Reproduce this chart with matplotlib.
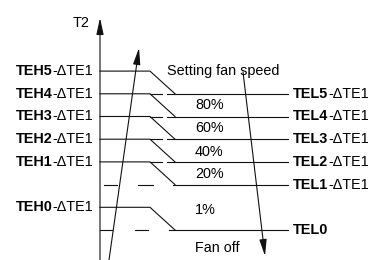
import matplotlib
matplotlib.use("Agg")
import matplotlib.pyplot as plt
from matplotlib.patches import FancyArrowPatch

plt.rcParams['font.family'] = ['Liberation Sans', 'DejaVu Sans']

# --------------------------------------------------
# DATA

# switch-on thresholds (rising T2) and their place on the T2 axis
teh_names = ["TEH5", "TEH4", "TEH3", "TEH2", "TEH1", "TEH0"]
teh_levels = [7, 6, 5, 4, 3, 1]

# switch-back thresholds (falling T2)
tel_names = ["TEL5", "TEL4", "TEL3", "TEL2", "TEL1", "TEL0"]
tel_suffix = ["-ΔTE1", "-ΔTE1", "-ΔTE1", "-ΔTE1", "-ΔTE1", ""]
tel_levels = [6, 5, 4, 3, 2, 0]

# fan speed inside each band
speed_labels = ["80%", "60%", "40%", "20%", "1%", "Fan off"]

title_text = "Setting fan speed"
axis_label = "T2"

# --------------------------------------------------
# LAYOUT (pixel-ish x, T2 level y)

px = 22.7
y_lo, y_hi = (230 - 260) / px, 230 / px

x_axis = 100
x_step = 150
x_ramp = 175
x_right = 288
speed_y = [5.5, 4.5, 3.45, 2.45, 0.9, -0.8]

fs = 10.4
lc = '#111111'
lw = 0.8

fig = plt.figure(figsize=(3.71, 2.60), dpi=100)
ax = fig.add_axes([0, 0, 1, 1])
ax.set_xlim(0, 371)
ax.set_ylim(y_lo, y_hi)
ax.axis('off')


def arrow(p0, p1):
    a = FancyArrowPatch(p0, p1, arrowstyle='-|>', mutation_scale=10,
                        color=lc, lw=lw, shrinkA=0, shrinkB=0)
    a.set_arrowstyle('-|>', head_length=1.0, head_width=0.22)
    ax.add_patch(a)


# T2 axis
arrow((x_axis, y_lo), (x_axis, (230 - 18) / px))
ax.text(81, (230 - 23) / px, axis_label, fontsize=fs, ha='center', va='center')

# rising thresholds: step then ramp down to the next lower band line
for name, lv, tl in zip(teh_names, teh_levels, tel_levels):
    ax.plot([x_axis, x_step, x_ramp], [lv, lv, tl], color=lc, lw=lw)
    t = ax.text(93, lv, "-ΔTE1", fontsize=fs, ha='right', va='center')
    ax.annotate(name, xy=(0, 0), xycoords=t, ha='right', va='bottom',
                fontsize=fs, fontweight='bold')

# falling thresholds
for name, suf, lv in zip(tel_names, tel_suffix, tel_levels):
    if lv in teh_levels:
        left = [(x_step, 162)]
        start = 167
    elif lv > 1:
        left = [(104, 117), (138, 153)]
        start = 173
    else:
        left = [(x_axis, 112), (135, 148)]
        start = 169
    for a, b in left:
        ax.plot([a, b], [lv, lv], color=lc, lw=lw)
    ax.plot([start, x_right], [lv, lv], color=lc, lw=lw)
    t = ax.text(293, lv, name, fontsize=fs, ha='left', va='center',
                fontweight='bold')
    if suf:
        ax.annotate(suf, xy=(1, 0), xycoords=t, ha='left', va='bottom',
                    fontsize=fs)

# fan speeds
ax.text(167, teh_levels[0], title_text, fontsize=fs, ha='left', va='center')
for lab, y in zip(speed_labels, speed_y):
    ax.text(195, y, lab, fontsize=fs, ha='left', va='center')

# direction arrows
arrow((109, y_lo), (139, (230 - 48) / px))
arrow((243, (230 - 72) / px), (265, (230 - 256) / px))

plt.savefig('out.png', dpi=100)
